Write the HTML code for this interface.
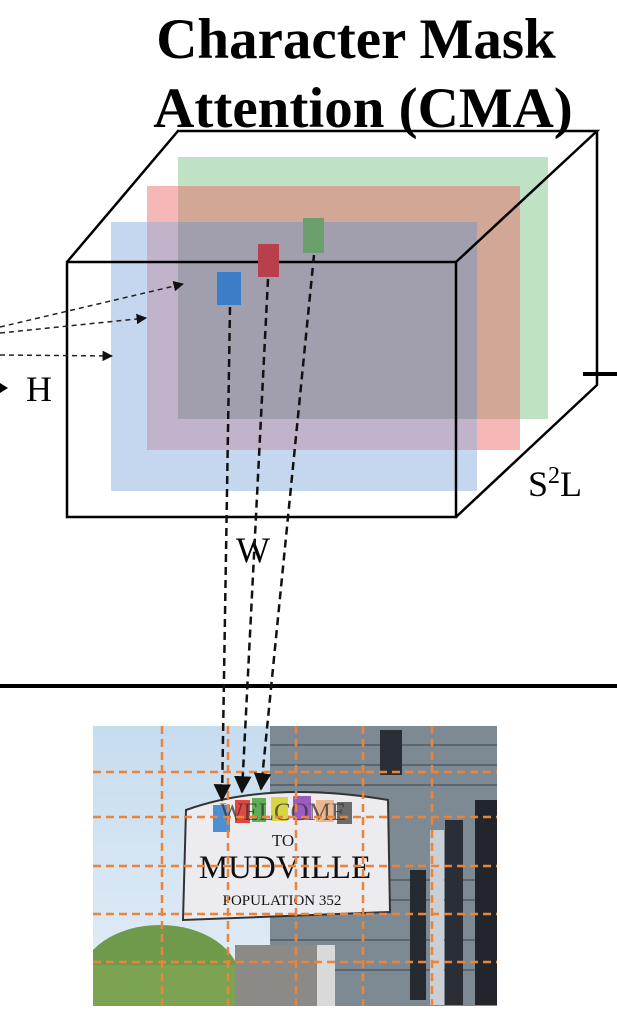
<!DOCTYPE html>
<html><head><style>
html,body{margin:0;padding:0;background:#fff;}
body{width:617px;height:1024px;overflow:hidden;position:relative;}
</style></head><body>
<svg width="617" height="1024" viewBox="0 0 617 1024" xmlns="http://www.w3.org/2000/svg">
<defs>
<marker id="ah" viewBox="0 0 10 10" refX="9" refY="5" markerWidth="7" markerHeight="7" orient="auto"><path d="M0,0L10,5L0,10z" fill="#111"/></marker>
<linearGradient id="sky" x1="0" y1="0" x2="0" y2="1"><stop offset="0" stop-color="#c6dcef"/><stop offset="1" stop-color="#e4eef6"/></linearGradient>
<clipPath id="pc"><rect x="93" y="726" width="404" height="280"/></clipPath>
</defs>
<text x="356" y="58" text-anchor="middle" font-family="Liberation Serif" font-weight="bold" font-size="57" fill="#000">Character Mask</text>
<text x="363" y="127" text-anchor="middle" font-family="Liberation Serif" font-weight="bold" font-size="57" fill="#000">Attention (CMA)</text>
<!-- planes -->
<rect x="178" y="157" width="370" height="262" fill="rgb(120,195,130)" fill-opacity="0.48"/>
<rect x="147" y="186" width="373" height="264" fill="rgb(235,95,95)" fill-opacity="0.45"/>
<rect x="111" y="222" width="366" height="269" fill="rgb(140,175,222)" fill-opacity="0.5"/>
<rect x="178" y="222" width="299" height="197" fill="rgb(120,125,140)" fill-opacity="0.25"/>
<!-- cube -->
<g fill="none" stroke="#000" stroke-width="2.5">
<rect x="67" y="262" width="389" height="255"/>
<path d="M67,262 L178,131 L597,131 L456,262 M597,131 L597,385 L456,517"/>
</g>
<line x1="583" y1="374" x2="617" y2="374" stroke="#000" stroke-width="4"/>
<rect x="217" y="272" width="24" height="33" fill="#3d7cc6"/>
<rect x="258" y="244" width="21" height="33" fill="#b8404c"/>
<rect x="303" y="218" width="21" height="35" fill="#6aa06e"/>
<g stroke="#222" stroke-width="1.5" stroke-dasharray="5,4" fill="none" marker-end="url(#ah)">
<line x1="0" y1="327" x2="183" y2="284"/>
<line x1="0" y1="333" x2="146" y2="318"/>
<line x1="0" y1="355" x2="112" y2="356"/>
</g>
<path d="M0,383 L8,388 L0,393z" fill="#000"/>
<text x="26" y="401" font-family="Liberation Serif" font-size="36" fill="#000">H</text>
<text x="528" y="496" font-family="Liberation Serif" font-size="36" fill="#000">S<tspan font-size="24" dy="-13">2</tspan><tspan dy="13">L</tspan></text>
<text x="236" y="562" font-family="Liberation Serif" font-size="36" fill="#000">W</text>
<line x1="0" y1="686" x2="617" y2="686" stroke="#000" stroke-width="4"/>
<!-- photo -->
<g clip-path="url(#pc)">
<rect x="93" y="726" width="404" height="280" fill="url(#sky)"/>
<rect x="270" y="726" width="227" height="280" fill="#7d8a94"/>
<g stroke="#5c6670" stroke-width="2"><line x1="270" y1="745" x2="497" y2="745"/><line x1="270" y1="765" x2="497" y2="765"/><line x1="270" y1="785" x2="497" y2="785"/><line x1="270" y1="880" x2="497" y2="880"/><line x1="270" y1="900" x2="497" y2="900"/><line x1="270" y1="940" x2="497" y2="940"/><line x1="270" y1="970" x2="497" y2="970"/></g>
<rect x="380" y="730" width="22" height="45" fill="#2a2f36"/>
<rect x="410" y="870" width="16" height="130" fill="#262b32"/>
<rect x="445" y="820" width="18" height="185" fill="#2a2f36"/>
<rect x="475" y="800" width="22" height="205" fill="#22262c"/>
<rect x="430" y="830" width="14" height="175" fill="#c9cfd4"/>
<ellipse cx="160" cy="980" rx="80" ry="55" fill="#6f9a4c"/>
<rect x="93" y="965" width="170" height="46" fill="#7ba352"/>
<rect x="235" y="945" width="95" height="61" fill="#8b8a86"/>
<rect x="317" y="945" width="18" height="61" fill="#d9d9d9"/>
</g>
<path d="M186,810 Q270,780 388,800 L390,912 L183,920 Z" fill="#ecebef" stroke="#333" stroke-width="2"/>
<rect x="213" y="805" width="17" height="27" fill="#4e8fd2"/>
<rect x="235" y="800" width="15" height="23" fill="#e0473f"/>
<rect x="252" y="798" width="14" height="24" fill="#5fae55"/>
<rect x="271" y="797" width="17" height="24" fill="#d8d644"/>
<rect x="293" y="796" width="18" height="24" fill="#9b5cc2"/>
<rect x="316" y="800" width="18" height="22" fill="#eab98f"/>
<rect x="337" y="802" width="15" height="22" fill="#6b6b6b"/>
<text x="283" y="820" text-anchor="middle" font-family="Liberation Serif" font-size="25" fill="#333" fill-opacity="0.75">WELCOME</text>
<text x="283" y="846" text-anchor="middle" font-family="Liberation Serif" font-size="17" fill="#222">TO</text>
<text x="285" y="878" text-anchor="middle" font-family="Liberation Serif" font-size="33" fill="#111">MUDVILLE</text>
<text x="282" y="905" text-anchor="middle" font-family="Liberation Serif" font-size="15" fill="#111">POPULATION 352</text>
<g stroke="#e9843a" stroke-width="2.5" stroke-dasharray="8,5" fill="none">
<line x1="162" y1="726" x2="162" y2="1006"/><line x1="228" y1="726" x2="228" y2="1006"/><line x1="296" y1="726" x2="296" y2="1006"/><line x1="363" y1="726" x2="363" y2="1006"/><line x1="432" y1="726" x2="432" y2="1006"/>
<line x1="93" y1="772" x2="497" y2="772"/><line x1="93" y1="817" x2="497" y2="817"/><line x1="93" y1="866" x2="497" y2="866"/><line x1="93" y1="914" x2="497" y2="914"/><line x1="93" y1="962" x2="497" y2="962"/>
</g>
<g stroke="#111" stroke-width="2.5" stroke-dasharray="8,5" fill="none" marker-end="url(#ah)">
<line x1="230" y1="307" x2="222" y2="800"/>
<line x1="268" y1="279" x2="242" y2="792"/>
<line x1="314" y1="255" x2="261" y2="789"/>
</g>
</svg>
</body></html>
